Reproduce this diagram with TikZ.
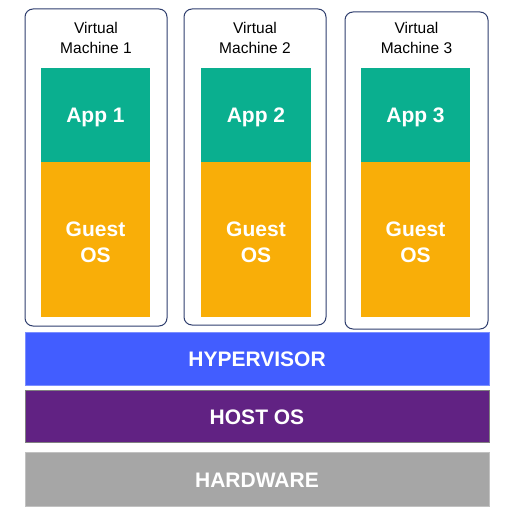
\documentclass[tikz,border=0pt]{standalone}
\usepackage{fontspec}
\setmainfont{Liberation Sans}
\definecolor{appgreen}{HTML}{0AAF8F}
\definecolor{osorange}{HTML}{F9AE08}
\definecolor{hypblue}{HTML}{425DFF}
\definecolor{hostpurple}{HTML}{612283}
\definecolor{hwgray}{HTML}{A6A6A6}
\definecolor{vmborder}{HTML}{2F3E6E}
\begin{document}
\begin{tikzpicture}[x=1pt,y=-1pt,
  vmbox/.style={draw=vmborder,line width=1pt,rounded corners=8pt,fill=white},
  label/.style={font=\fontsize{21}{26}\selectfont\bfseries,text=white,align=center},
  vmlabel/.style={font=\fontsize{15.5}{20}\selectfont,align=center,text=black}]
\useasboundingbox (0,0) rectangle (506,508);
\foreach \i/\xl/\xr/\yt/\yb/\ax/\bx in {1/25/167/9/326/41/150, 2/184/326/9/325/201/311, 3/345/488/12/329/361/470}{
  \draw[vmbox] (\xl,\yt) rectangle (\xr,\yb);
  \node[vmlabel] (vm\i) at ({(\xl+\xr)/2},38) {Virtual\\Machine \i};
  \fill[appgreen] (\ax,68) rectangle (\bx,162);
  \fill[osorange] (\ax,162) rectangle (\bx,317);
  \node[label] (app\i) at ({(\ax+\bx)/2},117) {App \i};
  \node[label] (os\i) at ({(\ax+\bx)/2},242) {Guest\\OS};
}
\draw[fill=hypblue,draw=hypblue!70!white] (25.5,332) rectangle (489,385);
\node[label] (hyp) at (257,359) {HYPERVISOR};
\draw[fill=hostpurple,draw=gray,line width=1pt] (25.5,390) rectangle (489,442);
\node[label] (host) at (257,417) {HOST OS};
\draw[fill=hwgray,draw=hwgray!70!white,line width=1pt] (25.5,452) rectangle (489,506);
\node[label] (hw) at (257,480) {HARDWARE};
\end{tikzpicture}
\end{document}
